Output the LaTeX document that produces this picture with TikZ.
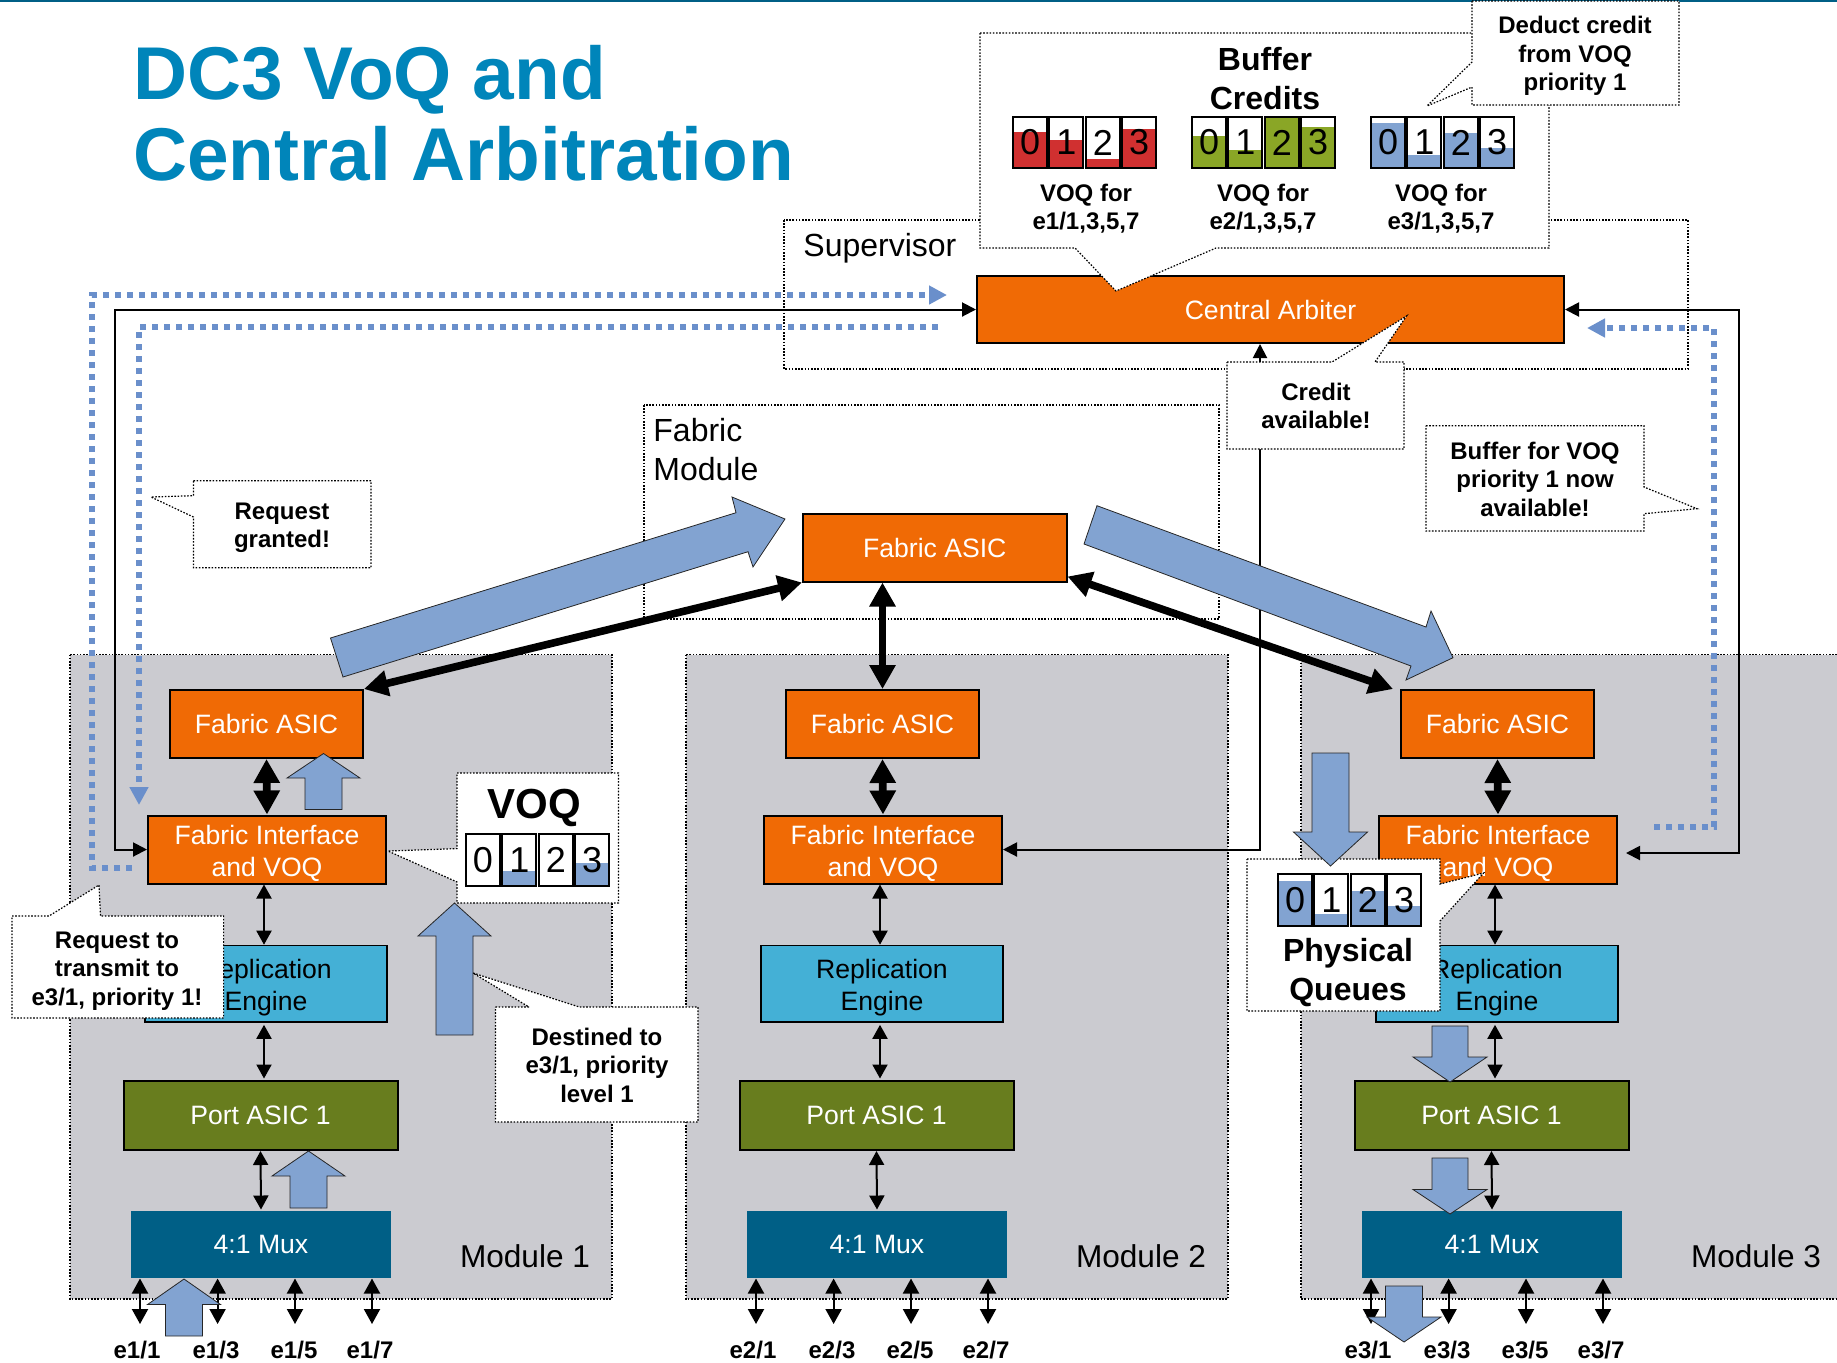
\documentclass[tikz,border=0pt]{standalone}
\usepackage{fontspec}
\setmainfont{Liberation Sans}
\usetikzlibrary{arrows.meta,calc}
\definecolor{orangeb}{HTML}{F06A05}
\definecolor{cyanb}{HTML}{44B0D6}
\definecolor{greenb}{HTML}{687D1E}
\definecolor{muxb}{HTML}{005F86}
\definecolor{panelg}{HTML}{CBCBD0}
\definecolor{flowb}{HTML}{82A3D1}
\definecolor{dotb}{HTML}{6A8FCB}
\definecolor{titleb}{HTML}{0085BA}
\definecolor{redq}{HTML}{D03030}
\definecolor{greenq}{HTML}{8AA626}
\newcommand{\lineup}{\rule{0pt}{13.2pt}}
\tikzset{
  modbox/.style={draw=black,line width=1pt,inner sep=0pt,text=white,align=center,font=\fontsize{13.3}{16}\selectfont},
  repbox/.style={fill=cyanb,text=black,line width=0.8pt},
  orbox/.style={fill=orangeb},
  grbox/.style={fill=greenb},
  mxbox/.style={fill=muxb,draw=none},
  dotline/.style={draw=black,line width=0.6pt,dash pattern=on 0.8pt off 0.8pt},
  callout/.style={dotline,fill=white},
  calltext/.style={align=center,inner sep=0pt,font=\bfseries\fontsize{12}{14.25}\selectfont},
  plain16/.style={align=left,inner sep=0pt,font=\fontsize{16}{19.5}\selectfont},
  head16/.style={align=center,inner sep=0pt,font=\bfseries\fontsize{16}{19.5}\selectfont},
  thinarr/.style={line width=1pt,{Triangle[length=7pt,width=7.5pt]}-{Triangle[length=7pt,width=7.5pt]}},
  portarr/.style={line width=1pt,{Triangle[length=7.5pt,width=8pt]}-{Triangle[length=7.5pt,width=8pt]}},
  thickarr/.style={line width=3.8pt,{Triangle[length=12pt,width=12.5pt]}-{Triangle[length=12pt,width=12.5pt]}},
  mainarr/.style={line width=1pt},
  dotarr/.style={draw=dotb,line width=3pt,dash pattern=on 3pt off 3pt,-{Triangle[length=9pt,width=9pt,fill=dotb]}},
  flow/.style={fill=flowb,draw=black!85,line width=0.4pt,line join=miter},
  digitq/.style={inner sep=0pt,font=\fontsize{18}{18}\selectfont},
  qline/.style={draw=black,line width=1pt},
}
\newcommand{\bx}[7]{%
  \pgfmathsetmacro\bxcx{(#2+#4)/2}\pgfmathsetmacro\bxcy{(#3+#5)/2}%
  \pgfmathsetmacro\bxw{(#4-#2)/2}\pgfmathsetmacro\bxh{(#5-#3)/2}%
  \node[modbox,#6,minimum width=\bxw pt,minimum height=\bxh pt] (#1) at (\bxcx,\bxcy) {#7};}
% block arrow: centre x, tip y, head base y, tail y, head half width, shaft half width
\newcommand{\blockarr}[6]{%
  \pgfmathsetmacro\bal{#1-#5}\pgfmathsetmacro\bar{#1+#5}%
  \pgfmathsetmacro\bsl{#1-#6}\pgfmathsetmacro\bsr{#1+#6}%
  \draw[flow] (#1,#2)--(\bar,#3)--(\bsr,#3)--(\bsr,#4)--(\bsl,#4)--(\bsl,#3)--(\bal,#3)--cycle;}
% one queue cell: name,x0,y0,y1,ytop,colour,digit
\newcommand{\cellq}[7]{%
  \pgfmathsetmacro\cqr{#2+34}\pgfmathsetmacro\cqm{#2+17}\pgfmathsetmacro\cqy{(#3+#4)/2}%
  \fill[white] (#2,#3) rectangle (\cqr,#4);
  \fill[#6] (#2,#5) rectangle (\cqr,#4);
  \draw[qline] (#2,#3) rectangle (\cqr,#4);
  \node[digitq] (#1) at (\cqm,\cqy) {#7};}
% four cells: prefix,x0,y0,y1,colour,tops
\newcommand{\cellgroup}[9]{%
  \pgfmathsetmacro\cga{#2}\pgfmathsetmacro\cgb{#2+36.4}\pgfmathsetmacro\cgc{#2+72.8}\pgfmathsetmacro\cgd{#2+109.2}%
  \edef\cgA{\cga}\edef\cgB{\cgb}\edef\cgC{\cgc}\edef\cgD{\cgd}%
  \cellq{#1a}{\cgA}{#3}{#4}{#6}{#5}{0}
  \cellq{#1b}{\cgB}{#3}{#4}{#7}{#5}{1}
  \cellq{#1c}{\cgC}{#3}{#4}{#8}{#5}{2}
  \cellq{#1d}{\cgD}{#3}{#4}{#9}{#5}{3}}
\begin{document}
\begin{tikzpicture}[x=0.5pt,y=-0.5pt]
\useasboundingbox (0,0) rectangle (1837,1362);
\fill[muxb] (0,0) rectangle (1837,2);
% title
\node[anchor=base west,inner sep=0pt,text=titleb,font=\bfseries\fontsize{37.4}{40.5}\selectfont] (title1) at (133,99) {DC3 VoQ and};
\node[anchor=base west,inner sep=0pt,text=titleb,font=\bfseries\fontsize{37.4}{40.5}\selectfont] (title2) at (133,180) {Central Arbitration};
% panels
\fill[panelg] (70,654.5) rectangle (612,1299);
\draw[dotline] (70,654.5) rectangle (612,1299);
\fill[panelg] (686,654.5) rectangle (1228,1299);
\draw[dotline] (686,654.5) rectangle (1228,1299);
\fill[panelg] (1301,654.5) rectangle (1837,1299);
\draw[dotline] (1837,654.5)--(1301,654.5)--(1301,1299)--(1837,1299);
% supervisor and fabric module frames
\draw[dotline] (784,220) rectangle (1688,369);
\draw[dotline] (644,405) rectangle (1219,619);
\node[plain16,anchor=base west] (suplabel) at (803,256) {Supervisor};
\node[plain16,anchor=north west] (fablabel) at (653,417.5) {Fabric\\Module};
% central boxes
\bx{ca}{977}{276}{1564}{343}{orbox}{Central Arbiter}
\bx{fc}{803}{514}{1066.5}{581.5}{orbox}{Fabric ASIC}
% modules
\foreach \mi/\dx in {1/0,2/616,3/1231}{
 \begin{scope}[shift={(\dx,0)}]
  \bx{fa\mi}{170}{690}{363}{758}{orbox}{Fabric ASIC}
  \bx{fi\mi}{148}{815.5}{386}{883.5}{orbox}{\lineup Fabric Interface\\and VOQ}
  \bx{re\mi}{145}{945.5}{387}{1022}{repbox}{\lineup Replication\\Engine}
  \bx{pa\mi}{123.5}{1080.5}{397.5}{1150}{grbox}{Port ASIC 1}
  \bx{mx\mi}{131}{1210.5}{391}{1277.5}{mxbox}{4:1 Mux}
  \coordinate (ax\mi) at (264,0);
  \draw[thickarr] (fa\mi.south)--(fi\mi.north);
  \draw[thinarr] (fi\mi.south -| ax\mi)--(re\mi.north -| ax\mi);
  \draw[thinarr] ($(re\mi.south -| ax\mi)+(0,2)$)--($(pa\mi.north -| ax\mi)+(0,-1)$);
  \draw[thinarr] (pa\mi.south)--(mx\mi.north);
  \node[inner sep=0pt,font=\fontsize{15.8}{19}\selectfont] (ml\mi) at (525,1256.5) {Module \mi};
  \foreach \pn/\px/\lx in {1/140/137,3/217.6/216,5/295/294,7/372/370}{
    \coordinate (pt\mi\pn) at (\px,1324);
    \draw[portarr] (mx\mi.south -| pt\mi\pn)--(pt\mi\pn);
    \node[inner sep=0pt,font=\bfseries\fontsize{12}{14}\selectfont] (pl\mi\pn) at (\lx,1350) {e\mi/\pn};
  }
 \end{scope}
}
% main black connectors
\coordinate (lx) at (115,0);
\coordinate (rx) at (1739,0);
\coordinate (cx) at (1260,0);
\coordinate (fi3e) at (1626,853);
\draw[mainarr,{Triangle[length=7pt,width=7pt]}-{Triangle[length=7pt,width=7pt]}] (ca.west)--(ca.west -| lx)--(fi1.west -| lx)--(fi1.west);
\draw[mainarr,{Triangle[length=7pt,width=7pt]}-{Triangle[length=7pt,width=7pt]}] (ca.east)--(ca.east -| rx)--(fi3e -| rx)--(fi3e);
\draw[mainarr,{Triangle[length=7pt,width=7pt]}-{Triangle[length=7pt,width=7pt]}] (fi2.east)--(fi2.east -| cx)--(ca.south -| cx);
% fabric links
\draw[thickarr] (fa1.north east)--(fc.south west);
\draw[thickarr] (fa2.north |- fc.south)--(fa2.north);
\draw[thickarr] ($(fc.south east)+(0,-6)$)--($(fa3.north west)+(-7,0)$);
% dotted flows
\coordinate (d1s) at (132,868);
\coordinate (d1a) at (92,868);
\coordinate (d1b) at (92,295);
\coordinate (d1e) at (947,295);
\draw[dotarr] (d1s)--(d1a)--(d1b)--(d1e);
\coordinate (d2s) at (938,327);
\coordinate (d2a) at (139,327);
\coordinate (d2e) at (139,805);
\draw[dotarr] (d2s)--(d2a)--(d2e);
\coordinate (d3s) at (1654,827);
\coordinate (d3a) at (1714,827);
\coordinate (d3b) at (1714,328);
\coordinate (d3e) at (1587,328);
\draw[dotarr] (d3s)--(d3a)--(d3b)--(d3e);
% large diagonal flows
\draw[flow] (330.5,638)--(736,512.7)--(732,497)--(785,519)--(753,567)--(748,551.7)--(343,677)--cycle;
\draw[flow] (1097,505.7)--(1426,627)--(1431,611)--(1453,657.7)--(1406,680)--(1411,666)--(1084,544)--cycle;
% block arrows module 1
\blockarr{323.5}{753.5}{778}{809.5}{36.5}{18.5}
\blockarr{454.5}{903}{936}{1035}{36.5}{18.5}
\blockarr{308.5}{1151}{1176}{1208}{36.5}{18.5}
\blockarr{184}{1279}{1304.5}{1336}{36.5}{18.5}
% block arrows module 3
\blockarr{1450}{1082}{1057}{1026}{37}{18}
\blockarr{1450}{1214}{1189.5}{1158}{37}{18}
\blockarr{1404}{1342}{1317}{1286}{37}{18.5}
% callouts
\draw[callout] (980,33)--(1549,33)--(1549,248)--(1216,248)--(1116,291)--(1075,248)--(980,248)--cycle;
\node[head16] (bufhead) at (1265,79) {Buffer\\Credits};
\cellgroup{qa}{1013}{117}{168}{redq}{132}{140}{159}{129}
\cellgroup{qb}{1192}{117}{168}{greenq}{136}{150}{117}{127}
\cellgroup{qc}{1371}{117}{168}{flowb}{123}{155}{133}{148}
\node[calltext] (voqa) at (1086,208.5) {VOQ for\\e1/1,3,5,7};
\node[calltext] (voqb) at (1263,208.5) {VOQ for\\e2/1,3,5,7};
\node[calltext] (voqc) at (1441,208.5) {VOQ for\\e3/1,3,5,7};
\draw[callout] (1472,1)--(1679,1)--(1679,105)--(1472,105)--(1472,87)--(1427,106)--(1472,62)--cycle;
\node[calltext] (deduct) at (1575,56) {Deduct credit\\from VOQ\\priority 1};
\draw[callout] (1227,362)--(1332,362)--(1406.5,316)--(1375,362)--(1404,362)--(1404,449)--(1227,449)--cycle;
\node[calltext] (credit) at (1316,406) {Credit\\available!};
\draw[callout] (1426,425.7)--(1644,425.7)--(1644,487)--(1697,508.7)--(1644,513.7)--(1644,531)--(1426,531)--cycle;
\node[calltext] (bufvoq) at (1535,479) {Buffer for VOQ\\priority 1 now\\available!};
\draw[callout] (193.4,480.7)--(371,480.7)--(371,567.7)--(193.4,567.7)--(193.4,517)--(151,497)--(193.4,495.7)--cycle;
\node[calltext] (granted) at (282,528) {Request\\granted!};
\draw[callout] (12,916)--(49,916)--(99,885)--(100.5,916)--(223.6,916)--(223.6,1018)--(12,1018)--cycle;
\node[calltext] (reqtx) at (117,971) {Request to\\transmit to\\e3/1, priority 1!};
\draw[callout] (495.4,1007)--(529,1007)--(473,973)--(579.4,1007)--(698,1007)--(698,1122)--(495.4,1122)--cycle;
\node[calltext] (destined) at (597,1065) {Destined to\\e3/1, priority\\level 1};
\draw[callout] (457,773)--(618.5,773)--(618.5,903)--(457,903)--(457,882)--(388,851)--(457,848.6)--cycle;
\node[inner sep=0pt,font=\bfseries\fontsize{21}{25}\selectfont] (voqtitle) at (534,808) {VOQ};
\cellgroup{qd}{466}{834}{885.5}{flowb}{885.5}{870.5}{885.5}{863}
\draw[callout] (1247,859)--(1440,859)--(1440,884)--(1483.6,873)--(1440,921)--(1440,1011)--(1247,1011)--cycle;
\cellgroup{qe}{1278}{874}{926}{flowb}{880.5}{913.6}{890.5}{905.5}
\node[head16] (physq) at (1348,972.5) {Physical\\Queues};
\blockarr{1330.5}{866}{832}{753}{37}{18.5}
\end{tikzpicture}
\end{document}
